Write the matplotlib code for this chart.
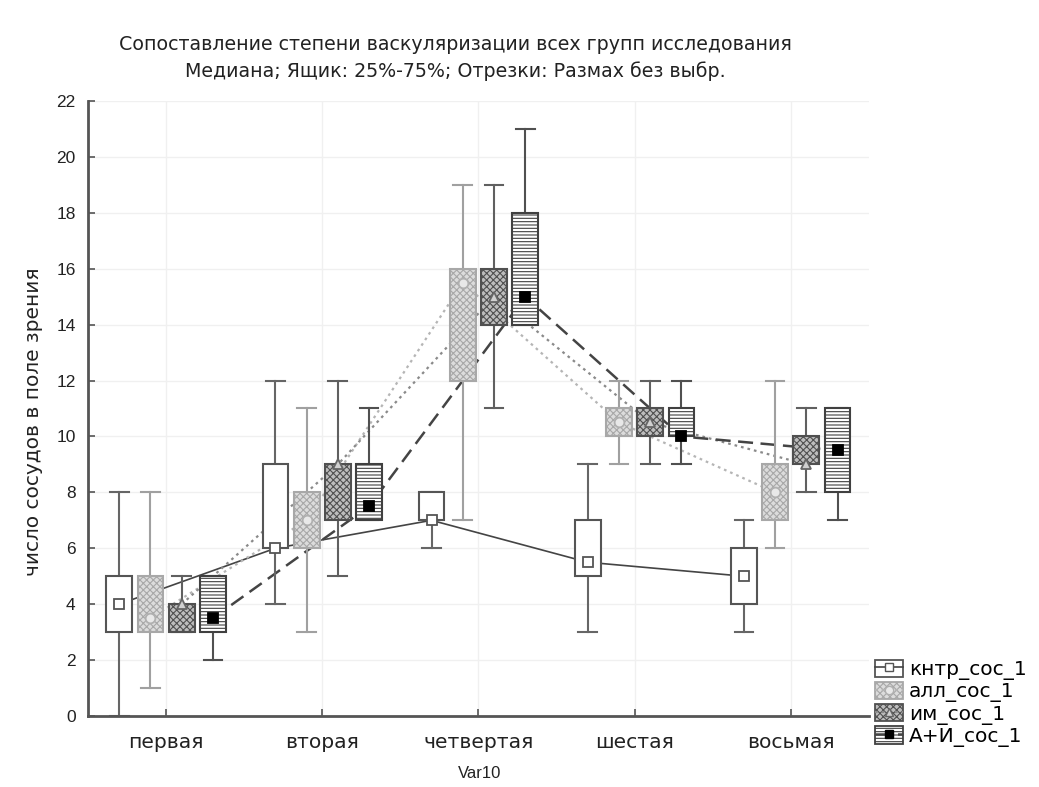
import numpy as np
import matplotlib
matplotlib.use("Agg")
import matplotlib.pyplot as plt
from matplotlib.patches import Patch
from matplotlib.lines import Line2D

plt.rcParams['font.family'] = ['Liberation Sans', 'DejaVu Sans']
plt.rcParams['hatch.linewidth'] = 0.8
CYR = ['DejaVu Sans']  # wider face for the cyrillic labels

######################## data ########################
categories = ["первая", "вторая", "четвертая", "шестая", "восьмая"]
groups = ["кнтр_сос_1", "алл_сос_1", "им_сос_1", "А+И_сос_1"]

# min, q1, median, q3, max for every category
kntr_min = [0, 4, 6, 3, 3]
kntr_q1 = [3, 6, 7, 5, 4]
kntr_med = [4, 6, 7, 5.5, 5]
kntr_q3 = [5, 9, 8, 7, 6]
kntr_max = [8, 12, 8, 9, 7]

all_min = [1, 3, 7, 9, 6]
all_q1 = [3, 6, 12, 10, 7]
all_med = [3.5, 7, 15.5, 10.5, 8]
all_q3 = [5, 8, 16, 11, 9]
all_max = [8, 11, 19, 12, 12]

im_min = [3, 5, 11, 9, 8]
im_q1 = [3, 7, 14, 10, 9]
im_med = [4, 9, 15, 10.5, 9]
im_q3 = [4, 9, 16, 11, 10]
im_max = [5, 12, 19, 12, 11]

ai_min = [2, 7, 14, 9, 7]
ai_q1 = [3, 7, 14, 10, 8]
ai_med = [3.5, 7.5, 15, 10, 9.5]
ai_q3 = [5, 9, 18, 11, 11]
ai_max = [5, 11, 21, 12, 11]

series = [
    (kntr_min, kntr_q1, kntr_med, kntr_q3, kntr_max),
    (all_min, all_q1, all_med, all_q3, all_max),
    (im_min, im_q1, im_med, im_q3, im_max),
    (ai_min, ai_q1, ai_med, ai_q3, ai_max),
]

# look of each group
styles = [
    dict(face="white", edge="#555555", hatch=None, whisk="#666666",
         ls="-", lc="#444444", lw=1.2, marker="s", mfc="white", mec="#555555", ms=7),
    dict(face="#dcdcdc", edge="#a8a8a8", hatch="xxxxx", whisk="#a0a0a0",
         ls=(0, (1.2, 1.8)), lc="#b5b5b5", lw=1.6, marker="o", mfc="#e8e8e8", mec="#b0b0b0", ms=7),
    dict(face="#bdbdbd", edge="#505050", hatch="xxxxx", whisk="#606060",
         ls=(0, (1.2, 1.8)), lc="#8a8a8a", lw=1.6, marker="^", mfc="#d0d0d0", mec="#666666", ms=7),
    dict(face="white", edge="#404040", hatch="-----", whisk="#505050",
         ls=(0, (6, 3)), lc="#444444", lw=1.8, marker="s", mfc="black", mec="black", ms=7),
]

offsets = [-0.3, -0.1, 0.1, 0.3]
x = np.arange(len(categories))

fig = plt.figure(figsize=(10.39, 7.87), dpi=100)
ax = fig.add_axes([0.0847, 0.0902, 0.7515, 0.7815])

for i, (vals, st) in enumerate(zip(series, styles)):
    mn, q1, med, q3, mx = vals
    pos = x + offsets[i]
    stats = [dict(whislo=mn[k], q1=q1[k], med=med[k], q3=q3[k], whishi=mx[k], fliers=[])
             for k in range(len(categories))]
    bp = ax.bxp(stats, positions=pos, widths=0.165, capwidths=0.12, patch_artist=True,
                showfliers=False, manage_ticks=False,
                boxprops=dict(facecolor=st["face"], edgecolor=st["edge"], linewidth=1.5, hatch=st["hatch"]),
                whiskerprops=dict(color=st["whisk"], linewidth=1.5),
                capprops=dict(color=st["whisk"], linewidth=1.5),
                medianprops=dict(linewidth=0))
    for b in bp["boxes"]:
        b.set_zorder(3)
    for w in bp["whiskers"] + bp["caps"]:
        w.set_zorder(2.5)
    # line through medians, behind the boxes
    ax.plot(pos, med, linestyle=st["ls"], color=st["lc"], linewidth=st["lw"], zorder=2)
    ax.plot(pos, med, linestyle="none", marker=st["marker"], markersize=st["ms"],
            markerfacecolor=st["mfc"], markeredgecolor=st["mec"], markeredgewidth=1.3, zorder=4)

ax.set_xlim(-0.5, 4.5)
ax.set_ylim(0, 22)
ax.set_yticks(np.arange(0, 23, 2))
ax.set_xticks(x)
ax.set_xticklabels(categories, family=CYR)
ax.tick_params(axis="both", direction="in", length=5, width=1.2, color="#555555",
               labelcolor="#222222")
ax.tick_params(axis="y", pad=9, labelsize=12.5)
ax.tick_params(axis="x", pad=12, labelsize=14.6)
ax.grid(True, color="#f0f0f0", linewidth=1)
ax.set_axisbelow(True)
for s in ["top", "right"]:
    ax.spines[s].set_visible(False)
for s in ["left", "bottom"]:
    ax.spines[s].set_color("#555555")
    ax.spines[s].set_linewidth(2)

ax.set_xlabel("Var10", fontsize=12, color="#222222", va="center")
ax.xaxis.set_label_coords(0.502, -0.093)
ax.set_ylabel("число сосудов в поле зрения", family=CYR, fontsize=14.5, color="#222222", va="center")
ax.yaxis.set_label_coords(-0.07, 0.478)

fig.text(0.438, 0.943, "Сопоставление степени васкуляризации всех групп исследования",
         ha="center", va="center", fontsize=13.7, color="#222222", family=CYR)
fig.text(0.438, 0.910, "Медиана; Ящик: 25%-75%; Отрезки: Размах без выбр.",
         ha="center", va="center", fontsize=13.7, color="#222222", family=CYR)

# legend
handles = []
for st in styles:
    p = Patch(facecolor=st["face"], edgecolor=st["edge"], hatch=st["hatch"], linewidth=1.3)
    ln = Line2D([], [], linestyle=st["ls"], color=st["lc"], linewidth=st["lw"], marker=st["marker"],
                markersize=6, markerfacecolor=st["mfc"], markeredgecolor=st["mec"])
    handles.append((p, ln))
fig.legend(handles, groups, loc="lower left", bbox_to_anchor=(0.842, 0.051), frameon=False,
           prop=dict(family=CYR, size=14.5), handlelength=1.4, handleheight=0.95, labelspacing=0.08,
           handletextpad=0.3, borderaxespad=0, borderpad=0)

fig.savefig("out.png", dpi=100, facecolor="white")
